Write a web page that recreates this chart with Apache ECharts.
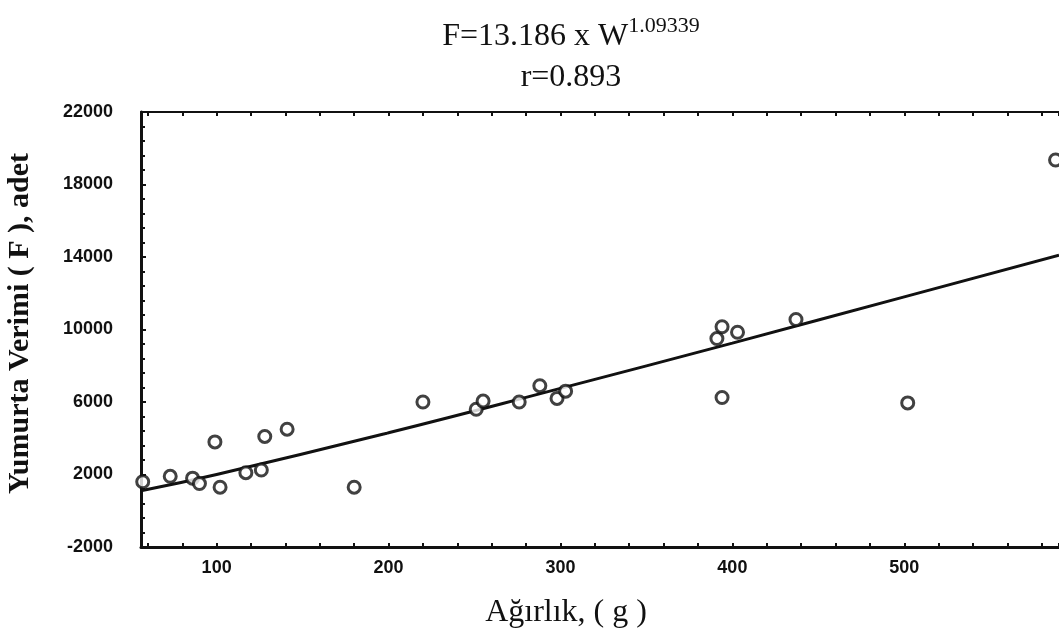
<!DOCTYPE html>
<html>
<head>
<meta charset="utf-8">
<script src="https://cdn.jsdelivr.net/npm/echarts@6/dist/echarts.min.js"></script>
<style>
  html, body { margin: 0; padding: 0; background: #fff; }
  #chart { width: 1059px; height: 643px; }
</style>
</head>
<body>
<div id="chart"></div>
<script>
// weight (g) vs egg count
const weights = [57, 73, 86, 90, 99, 102, 117, 126, 128, 141, 180, 220, 251, 255, 276, 288, 298, 303, 391, 394, 403, 437, 394, 502, 588]
const eggs = [1600, 1900, 1800, 1500, 3800, 1300, 2100, 2250, 4100, 4500, 1300, 6000, 5600, 6050, 6000, 6900, 6200, 6600, 9500, 10150, 9850, 10550, 6250, 5950, 19350]

// fitted curve F = 13.186 x W^1.09339
const fitW = [56, 100, 200, 300, 400, 500, 590]
const fitF = [1100, 2000, 4300, 6750, 9250, 11800, 14100]

const xLabels = [100, 200, 300, 400, 500]
const yLabels = [-2000, 2000, 6000, 10000, 14000, 18000, 22000]

const labelFont = { fontFamily: '"Liberation Sans", Arial, sans-serif', fontSize: 18, fontWeight: 'bold', color: '#111' }
const serif = '"Liberation Serif", "Times New Roman", serif'

const chart = echarts.init(document.getElementById('chart'))

chart.setOption({
  animation: false,
  backgroundColor: '#fff',
  title: [
    {
      text: '{m|F=13.186 x W}{s|1.09339}',
      left: 566,
      top: 10,
      textAlign: 'center',
      textStyle: {
        fontWeight: 'normal',
        rich: {
          m: { fontFamily: serif, fontSize: 32, fontWeight: 'normal', color: '#111', verticalAlign: 'bottom', lineHeight: 38 },
          s: { fontFamily: serif, fontSize: 22, fontWeight: 'normal', color: '#111', verticalAlign: 'top', padding: [0, 0, 17, 0], lineHeight: 38 }
        }
      }
    },
    {
      text: 'r=0.893',
      left: 566,
      top: 57,
      textAlign: 'center',
      textStyle: { fontFamily: serif, fontSize: 32, fontWeight: 'normal', color: '#111' }
    }
  ],
  grid: { left: 141, top: 112, width: 918, height: 435, outerBoundsMode: 'none' },
  xAxis: [
    {
      type: 'value',
      min: 56,
      max: 590,
      splitNumber: 27,
      name: 'Ağırlık, ( g )',
      nameLocation: 'middle',
      nameGap: 50,
      nameTextStyle: { fontFamily: serif, fontSize: 32, color: '#111', padding: [0, 68, 0, 0] },
      axisLine: { onZero: false, lineStyle: { color: '#111', width: 3 } },
      axisTick: { inside: true, length: 4, lineStyle: { color: '#111', width: 2 } },
      splitLine: { show: false },
      axisLabel: {
        ...labelFont,
        margin: 12,
        interval: 0,
        formatter: (v) => (xLabels.includes(v) ? String(v) : '')
      }
    },
    {
      type: 'value',
      position: 'top',
      min: 56,
      max: 590,
      splitNumber: 27,
      axisLine: { show: true, onZero: false, lineStyle: { color: '#111', width: 2 } },
      axisTick: { inside: true, length: 4, lineStyle: { color: '#111', width: 2 } },
      axisLabel: { show: false },
      splitLine: { show: false }
    }
  ],
  yAxis: {
    type: 'value',
    min: -2000,
    max: 22000,
    interval: 4000,
    name: 'Yumurta Verimi ( F ), adet',
    nameLocation: 'middle',
    nameGap: 106,
    nameRotate: 90,
    nameTextStyle: { fontFamily: serif, fontSize: 30, fontWeight: 'bold', color: '#111', padding: [0, 0, 0, 12] },
    axisLine: { show: true, onZero: false, lineStyle: { color: '#111', width: 3 } },
    axisTick: { inside: true, length: 5, lineStyle: { color: '#111', width: 2 } },
    minorTick: { show: true, splitNumber: 5, length: 4, lineStyle: { color: '#111', width: 2 } },
    splitLine: { show: false },
    axisLabel: {
      ...labelFont,
      margin: 28,
      formatter: (v) => (yLabels.includes(v) ? String(v) : '')
    }
  },
  series: [
    {
      type: 'line',
      data: fitW.map((w, i) => [w, fitF[i]]),
      smooth: true,
      showSymbol: false,
      lineStyle: { color: '#111', width: 3 },
      z: 2
    },
    {
      type: 'scatter',
      data: weights.map((w, i) => [w, eggs[i]]),
      symbol: 'circle',
      symbolSize: 12,
      itemStyle: { color: '#fff', borderColor: '#111', borderWidth: 3 },
      z: 3
    }
  ]
})
</script>
</body>
</html>
